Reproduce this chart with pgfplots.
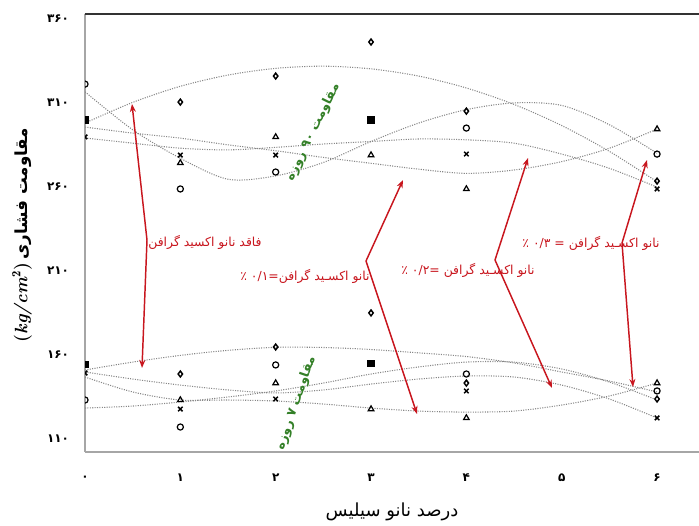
\documentclass[border=0pt]{standalone}
\usepackage{pgfplots}
\pgfplotsset{compat=1.18}
\usepackage{fontspec}
\usetikzlibrary{arrows.meta}
\TeXXeTstate=1
\newfontfamily\fa[Script=Arabic]{DejaVu Sans}
\definecolor{annred}{RGB}{200,22,30}
\definecolor{anngreen}{RGB}{52,128,40}
\definecolor{fitgray}{RGB}{135,135,135}
\begin{document}
\begin{tikzpicture}
\useasboundingbox (0pt,0pt) rectangle (524.25pt,-393.75pt);
\begin{axis}[
  at={(63.75pt,-339pt)}, anchor=south west, scale only axis,
  width=460.5pt, height=328.5pt,
  xmin=0, xmax=6.44, ymin=101.9, ymax=363,
  axis x line*=bottom, axis y line*=left,
  axis line style={-, draw=black!35, line width=0.8pt},
  xtick={0,1,2,3,4,5,6}, xticklabels={۰,۱,۲,۳,۴,۵,۶},
  ytick={110,160,210,260,310,360}, yticklabels={۱۱۰,۱۶۰,۲۱۰,۲۶۰,۳۱۰,۳۶۰},
  major tick length=0pt,
  tick label style={font=\fa\bfseries\fontsize{9}{10}\selectfont, text=black},
  xticklabel style={anchor=center, yshift=-19.5pt},
  yticklabel style={anchor=center, xshift=-20.25pt},
  clip marker paths=true,
  fitline/.style={fitgray, densely dotted, line width=0.8pt, smooth},
  mk/.style={only marks, black, line width=0.9pt, mark options={solid}},
]
% fitted trend curves, 90 days
\addplot[fitline] coordinates {(0,298.0)(0.5,310.3)(1,319.9)(1.5,326.6)(2,330.6)(2.5,331.9)(3,330.3)(3.5,326.0)(4,318.9)(4.5,309.1)(5,296.5)(5.5,281.1)(6,263.0)};
\addplot[fitline] coordinates {(0,316.6)(0.5,294.0)(1,277.0)(1.5,264.5)(2,266.5)(2.5,274.5)(3,287.0)(3.5,298.0)(4,306.0)(4.5,310.0)(5,308.5)(5.5,297.0)(6,280.0)};
\addplot[fitline] coordinates {(0,295.6)(0.5,292.0)(1,289.0)(1.5,285.0)(2,281.5)(2.5,277.5)(3,274.0)(3.5,270.5)(4,268.0)(4.5,270.0)(5,275.0)(5.5,283.0)(6,294.4)};
\addplot[fitline] coordinates {(0,289.1)(0.5,286.0)(1,283.0)(1.5,282.0)(2,283.5)(2.5,285.5)(3,287.0)(3.5,288.5)(4,288.0)(4.5,286.0)(5,279.5)(5.5,271.0)(6,259.8)};
% fitted trend curves, 7 days
\addplot[fitline] coordinates {(0,150.8)(0.5,155.5)(1,159.5)(1.5,162.5)(2,164.3)(2.5,164.2)(3,163.0)(3.5,161.0)(4,158.8)(4.5,155.0)(5,149.6)(5.5,144.2)(6,137.7)};
\addplot[fitline] coordinates {(0,149.6)(0.5,145.4)(1,141.8)(1.5,138.9)(2,137.1)(2.5,138.9)(3,142.4)(3.5,145.4)(4,147.2)(4.5,146.6)(5,141.8)(5.5,133.5)(6,122.2)};
\addplot[fitline] coordinates {(0,146.6)(0.5,137.7)(1,132.9)(1.5,132.9)(2,132.3)(2.5,130.5)(3,128.1)(3.5,126.3)(4,125.7)(4.5,126.3)(5,129.9)(5.5,135.3)(6,143.0)};
\addplot[fitline] coordinates {(0,128.1)(0.5,129.3)(1,131.7)(1.5,134.7)(2,138.3)(2.5,143.0)(3,148.4)(3.5,152.6)(4,155.5)(4.5,155.5)(5,151.4)(5.5,143.6)(6,132.9)};
% measured points
\addplot[mk, mark=o, mark size=2.3pt] coordinates {(0,321.2)(1,258.7)(2,268.8)(4,295.0)(6,279.5)(0,132.9)(1,116.8)(2,153.8)(4,148.4)(6,138.3)};
\addplot[mk, mark=diamond, mark size=2.2pt, line width=1.1pt] coordinates {(1,310.5)(2,326.0)(3,346.3)(4,305.1)(6,263.4)(1,148.4)(2,164.5)(3,184.8)(4,143.0)(6,133.5)};
\addplot[mk, mark=triangle, mark size=2.4pt] coordinates {(1,274.2)(2,289.7)(3,278.9)(4,258.7)(6,294.4)(1,132.9)(2,143.0)(3,127.5)(4,122.2)(6,143.0)};
\addplot[mk, mark=x, mark size=2.4pt, line width=1.1pt] coordinates {(0,289.7)(1,278.9)(2,278.9)(4,279.5)(6,258.7)(0,149.0)(1,127.5)(2,133.5)(4,138.3)(6,122.2)};
\addplot[mk, mark=square*, mark size=2.2pt] coordinates {(0,299.8)(3,299.8)(0,153.8)(3,154.4)};
\end{axis}
\begin{scope}[x=0.75pt,y=-0.75pt]
\draw[black!80, line width=1.6pt] (84.5,14) -- (699,14);
% axis titles
\node[rotate=90, anchor=center, inner sep=0pt] at (22,235)
  {\fontsize{13.5}{15}\selectfont\bfseries(\textit{kg/cm}$^{\mathbf{2}}$)\,{\fa\fontsize{12.5}{15}\selectfont\beginR مقاومت فشاری\endR}};
\node[anchor=center, inner sep=0pt] at (392,512)
  {\fa\fontsize{13.5}{15}\selectfont\beginR درصد نانو سیلیس\endR};
% green labels
\node[anchor=center, rotate=63.7, text=anngreen, inner sep=0pt] at (313,132)
  {\fa\bfseries\fontsize{9.6}{11}\selectfont\beginR مقاومت \beginL۹۰\endL{} روزه\endR};
\node[anchor=center, rotate=71, text=anngreen, inner sep=0pt] at (296,403)
  {\fa\bfseries\fontsize{9.6}{11}\selectfont\beginR مقاومت \beginL۷\endL{} روزه\endR};
% red labels
\begin{scope}[every node/.style={text=annred, inner sep=0pt, anchor=center, font=\fa\fontsize{9.3}{11}\selectfont}]
\node at (205,242) {\beginR فاقد نانو اکسید گرافن\endR};
\node at (305,276) {\beginR نانو اکسـید گرافن=\beginL۰/۱\endL{} ٪\endR};
\node at (468,270) {\beginR نانو اکسـید گرافن =\beginL۰/۲\endL{} ٪\endR};
\node at (591,243) {\beginR نانو اکسـید گرافن = \beginL۰/۳\endL{} ٪\endR};
\end{scope}
\begin{scope}[annred, line width=1.1pt, arrows={-{Stealth[length=6pt,width=4.5pt]}}]
\draw (147,240) -- (132,104);
\draw (147,240) -- (142,368);
\draw (366,261) -- (403,180);
\draw (366,261) -- (417,414);
\draw (495,260) -- (528,158);
\draw (495,260) -- (552,388);
\draw (622,243) -- (647,160);
\draw (622,243) -- (633,387);
\end{scope}
\end{scope}
\end{tikzpicture}
\end{document}
